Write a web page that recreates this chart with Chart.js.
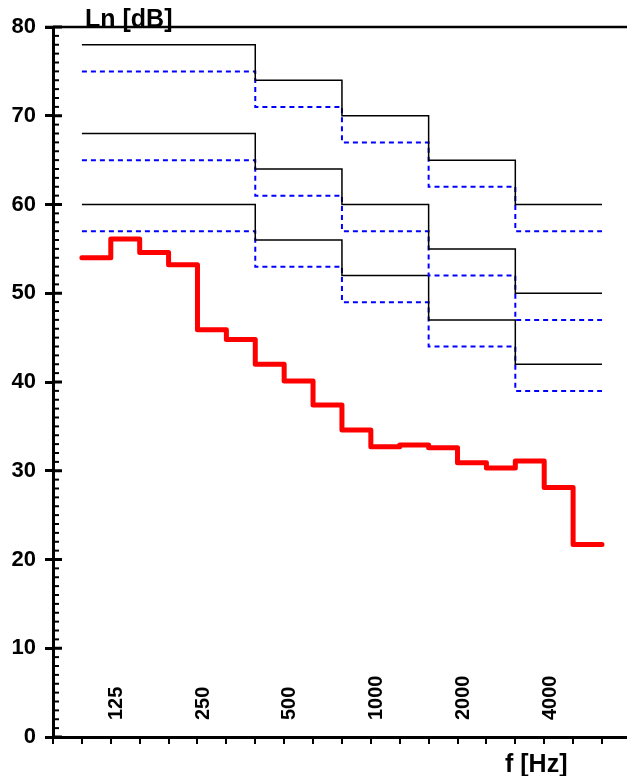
<!DOCTYPE html>
<html>
<head>
<meta charset="utf-8">
<script src="https://cdn.jsdelivr.net/npm/chart.js@4/dist/chart.umd.min.js"></script>
<style>
  html, body { margin: 0; padding: 0; background: #fff; }
  canvas { display: block; }
</style>
</head>
<body>
<canvas id="chart" width="627" height="776"></canvas>
<script>
// --- dados ---
// bandas de 1/3 de oitava (100 Hz .. 5000 Hz)
const bands = ['100','125','160','200','250','315','400','500','630','800','1000','1250','1600','2000','2500','3150','4000','5000'];
// nível medido Ln [dB]
const measured = [54, 56.1, 54.6, 53.2, 45.9, 44.8, 42, 40.1, 37.4, 34.6, 32.7, 32.9, 32.6, 30.9, 30.3, 31.1, 28.1, 21.7];

// curvas de referência por oitava (banda inicial de cada degrau)
const refStartBands = ['100','400','800','1600','3150'];
const refSolidA = [78, 74, 70, 65, 60];
const refSolidB = [68, 64, 60, 55, 50];
const refSolidC = [60, 56, 52, 47, 42];
const refDashA = [75, 71, 67, 62, 57];
const refDashB = [65, 61, 57, 52, 47];
const refDashC = [57, 53, 49, 44, 39];

// rótulos do eixo x
const freqLabels = ['125','250','500','1000','2000','4000'];
const yTicks = [0, 10, 20, 30, 40, 50, 60, 70, 80];

// posição de cada banda no eixo (índice 1 = 100 Hz)
const bandPos = b => bands.indexOf(b) + 1;
const lastEdge = bands.length + 1;

function stepPoints(values) {
    const pts = values.map((v, i) => ({ x: i + 1, y: v }));
    pts.push({ x: lastEdge, y: values[values.length - 1] });
    return pts;
}

function refPoints(values) {
    const pts = values.map((v, i) => ({ x: bandPos(refStartBands[i]), y: v }));
    pts.push({ x: lastEdge, y: values[values.length - 1] });
    return pts;
}

const solid = (vals) => ({
    data: refPoints(vals), stepped: 'before', borderColor: '#000', borderWidth: 1.5,
    pointRadius: 0, fill: false
});
const dashed = (vals) => ({
    data: refPoints(vals), stepped: 'before', borderColor: '#0000ff', borderWidth: 2,
    borderDash: [5, 4], pointRadius: 0, fill: false
});

// eixos desenhados à mão (ticks menores, título, rótulos verticais)
const axesPlugin = {
    id: 'axesPlugin',
    afterDraw(chart) {
        const { ctx, chartArea, scales } = chart;
        const x = scales.x, y = scales.y;
        ctx.save();
        ctx.strokeStyle = '#000';

        // linha superior
        ctx.lineWidth = 2.5;
        ctx.beginPath();
        ctx.moveTo(chartArea.left - 8, chartArea.top);
        ctx.lineTo(chartArea.right, chartArea.top);
        ctx.stroke();

        // ticks do eixo y (para dentro)
        for (let v = 0; v <= 80; v++) {
            const py = y.getPixelForValue(v);
            const major = v % 10 === 0;
            ctx.lineWidth = major ? 3 : 2;
            ctx.beginPath();
            ctx.moveTo(chartArea.left, py);
            ctx.lineTo(chartArea.left + (major ? 9 : 6), py);
            ctx.stroke();
        }

        // rótulos de frequência (verticais)
        ctx.fillStyle = '#000';
        ctx.font = 'bold 20px Arial, "Liberation Sans", sans-serif';
        ctx.textAlign = 'left';
        ctx.textBaseline = 'middle';
        freqLabels.forEach(lbl => {
            const px = x.getPixelForValue(bandPos(lbl) + 0.2);
            ctx.save();
            ctx.translate(px, 720);
            ctx.rotate(-Math.PI / 2);
            ctx.fillText(lbl, 0, 0);
            ctx.restore();
        });

        // títulos dos eixos
        ctx.font = 'bold 25px Arial, "Liberation Sans", sans-serif';
        ctx.textBaseline = 'alphabetic';
        ctx.fillText('Ln [dB]', 85, 27);
        ctx.fillText('f [Hz]', 505, 772);
        ctx.restore();
    }
};

new Chart(document.getElementById('chart'), {
    type: 'line',
    data: {
        datasets: [
            solid(refSolidA), dashed(refDashA),
            solid(refSolidB), dashed(refDashB),
            solid(refSolidC), dashed(refDashC),
            {
                data: stepPoints(measured), stepped: 'before', borderColor: '#ff0000', borderWidth: 5,
                borderCapStyle: 'round', borderJoinStyle: 'round', pointRadius: 0, fill: false
            }
        ]
    },
    options: {
        responsive: false,
        animation: false,
        devicePixelRatio: 1,
        layout: { padding: { top: 27, right: 0, left: 0, bottom: 0 } },
        plugins: { legend: { display: false }, tooltip: { enabled: false } },
        scales: {
            x: {
                type: 'linear',
                min: 0,
                max: 19 * 574 / 549,
                afterBuildTicks: s => { s.ticks = Array.from({ length: 20 }, (_, i) => ({ value: i })); },
                afterFit: s => { s.height = 39; },
                ticks: { display: false },
                grid: { drawOnChartArea: false, drawTicks: true, tickLength: 7, lineWidth: 2, color: '#000' },
                border: { display: true, color: '#000', width: 3 }
            },
            y: {
                min: 0,
                max: 80,
                afterBuildTicks: s => { s.ticks = yTicks.map(v => ({ value: v })); },
                afterFit: s => { s.width = 53; },
                ticks: {
                    color: '#000', padding: 9,
                    font: { family: 'Arial, "Liberation Sans", sans-serif', size: 22, weight: 'bold' }
                },
                grid: { drawOnChartArea: false, drawTicks: true, tickLength: 8, lineWidth: 3, color: '#000' },
                border: { display: true, color: '#000', width: 3 }
            }
        }
    },
    plugins: [axesPlugin]
});
</script>
</body>
</html>
